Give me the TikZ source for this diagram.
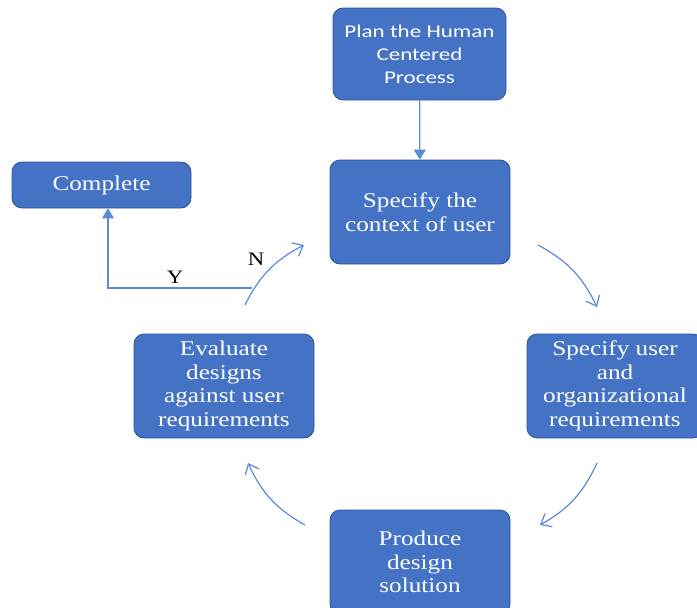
\documentclass[tikz,border=0pt]{standalone}
\usepackage{fontspec}
\newfontfamily\serifw[FakeStretch=1.2]{Liberation Serif}
\newfontfamily\sansw[FakeStretch=1.28]{Carlito}
\usetikzlibrary{arrows.meta}
\definecolor{boxblue}{HTML}{4472C4}
\definecolor{boxedge}{HTML}{2F5597}
\definecolor{arrblue}{HTML}{5B8AD6}
\tikzset{
  box/.style={draw=boxedge, line width=0.8pt, fill=boxblue, rounded corners=10pt,
    text=white, align=center, inner sep=0pt},
  serifbox/.style={box, font=\serifw\fontsize{21}{23.5}\selectfont},
  sansbox/.style={box, font=\sansw\fontsize{18}{23}\selectfont},
  flow/.style={draw=arrblue, line width=1.2pt},
  curvearrow/.style={flow, -{Straight Barb[length=9pt,width=15pt,line width=1.2pt]}},
  lab/.style={font=\serifw\fontsize{19}{21}\selectfont, text=black, inner sep=0pt}
}
\begin{document}
\begin{tikzpicture}[x=1pt,y=-1pt]
\useasboundingbox (0,0) rectangle (697,608);
\clip (0,0) rectangle (697,608);
\node[sansbox, minimum width=173pt, minimum height=92pt] (plan) at (419.5,54) {Plan the Human\\Centered\\Process};
\node[serifbox, minimum width=180pt, minimum height=104pt] (ctx) at (420,212) {Specify the\\context of user};
\node[serifbox, minimum width=179pt, minimum height=46pt] (done) at (101.5,185) {Complete};
\node[serifbox, minimum width=176pt, minimum height=104pt] (req) at (615,386) {Specify user\\and\\organizational\\requirements};
\node[serifbox, minimum width=180pt, minimum height=104pt, text depth=0pt] (prod) at (420,562) {Produce\\design\\solution};
\node[serifbox, minimum width=180pt, minimum height=104pt] (eval) at (224,386) {Evaluate\\designs\\against user\\requirements};

\draw[flow, -{Triangle[length=10pt,width=12pt]}] (plan) -- (ctx);

\coordinate (a1s) at (538,245);
\coordinate (a1e) at (597,307);
\coordinate (a2s) at (597,463);
\coordinate (a2e) at (540,525);
\coordinate (a3s) at (305,525);
\coordinate (a3e) at (248,463);
\coordinate (a4s) at (245,305);
\coordinate (a4e) at (304,245);
\coordinate (ystart) at (252,288);
\coordinate (ycorner) at (108,288);

\draw[curvearrow] (a1s) to[bend left=18] (a1e);
\draw[curvearrow] (a2s) to[bend left=18] (a2e);
\draw[curvearrow] (a3s) to[bend left=18] (a3e);
\draw[curvearrow] (a4s) to[bend left=18] (a4e);

\draw[flow, -{Triangle[length=10pt,width=12pt]}] (ystart) -- (ycorner) -- (ycorner |- done.south);

\node[lab] (ylab) at (175,277) {Y};
\node[lab] (nlab) at (256,259) {N};
\end{tikzpicture}
\end{document}
